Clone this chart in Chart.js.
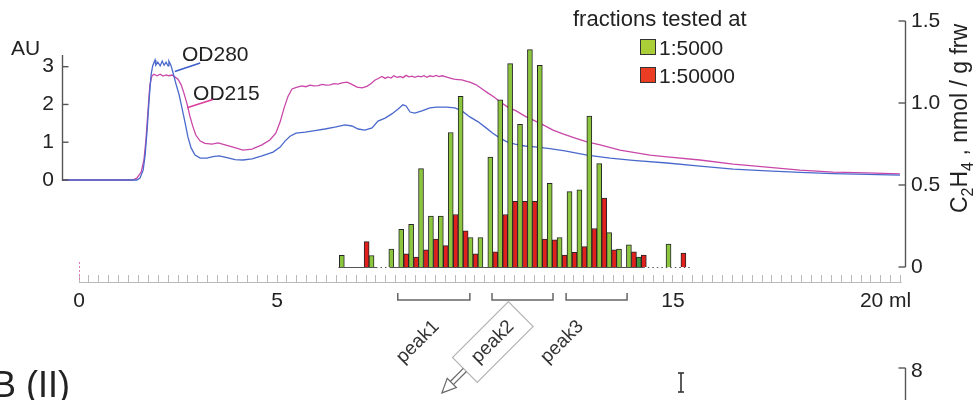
<!DOCTYPE html>
<html>
<head>
<meta charset="utf-8">
<script src="https://cdn.jsdelivr.net/npm/chart.js@4.4.1/dist/chart.umd.min.js"></script>
<style>
html,body{margin:0;padding:0;background:#fff;}
#wrap{width:977px;height:400px;position:relative;}
canvas{display:block;}
</style>
</head>
<body>
<div id="wrap"><canvas id="c" width="977" height="400"></canvas></div>
<script>
// Elution volume (ml) of each collected fraction
const fractionVolume = [6.7, 6.95, 7.2, 7.45, 7.7, 7.95, 8.2, 8.45, 8.7, 8.95,
  9.2, 9.45, 9.7, 9.95, 10.2, 10.45, 10.7, 10.95, 11.2, 11.45,
  11.7, 11.95, 12.2, 12.45, 12.7, 12.95, 13.2, 13.45, 13.7, 13.95,
  14.2, 14.45, 14.7, 14.95, 15.2];
// Ethylene produced (nmol / g frw), fractions tested at 1:5000
const ethylene5000 = [0.071, null, null, 0.07, null, 0.11, 0.23, 0.26, 0.60, 0.31,
  0.31, 0.82, 1.04, 0.18, 0.18, 0.67, 1.02, 1.24, 0.87, 1.325,
  1.23, 0.51, 0.18, 0.46, 0.47, 0.92, 0.63, 0.21, 0.11, 0.135,
  0.06, null, null, 0.14, null];
// Ethylene produced (nmol / g frw), fractions tested at 1:50000
const ethylene50000 = [null, null, 0.155, null, null, null, 0.08, 0.06, 0.105, 0.17,
  0.13, 0.32, 0.22, 0.08, null, 0.093, 0.32, 0.40, 0.40, 0.40,
  0.17, 0.165, 0.073, 0.09, 0.124, 0.235, 0.42, 0.105, null, 0.093,
  0.073, null, null, null, 0.085];

// Absorbance trace at 280 nm
const od280Volume = [-0.43, 0.53, 1.46, 1.54, 1.62, 1.67, 1.72, 1.77, 1.82, 1.86,
  1.92, 1.94, 1.99, 2.05, 2.10, 2.15, 2.20, 2.25, 2.27, 2.32,
  2.37, 2.45, 2.53, 2.60, 2.68, 2.75, 2.83, 2.93, 3.06, 3.23,
  3.38, 3.54, 3.71, 3.94, 4.14, 4.37, 4.62, 4.90, 5.08, 5.20,
  5.33, 5.48, 5.71, 5.96, 6.21, 6.46, 6.72, 6.89, 7.05, 7.22,
  7.40, 7.55, 7.73, 7.90, 8.06, 8.18, 8.26, 8.36, 8.48, 8.66,
  8.86, 9.04, 9.29, 9.49, 9.67, 9.87, 10.08, 10.28, 10.45, 10.63,
  10.81, 11.01, 11.26, 11.57, 11.89, 12.27, 12.83, 13.41, 13.99, 14.85,
  15.68, 16.52, 17.37, 18.21, 19.04, 19.90, 20.73];
const od280Abs = [0, 0, 0, 0.05, 0.26, 0.66, 1.32, 2.12, 2.78, 3.02,
  3.18, 3.04, 3.12, 3.02, 3.15, 3.04, 3.12, 3.02, 3.15, 3.04,
  2.86, 2.54, 2.25, 1.91, 1.51, 1.14, 0.85, 0.66, 0.58, 0.58,
  0.62, 0.64, 0.60, 0.54, 0.53, 0.56, 0.64, 0.74, 0.87, 1.03,
  1.16, 1.24, 1.27, 1.31, 1.35, 1.40, 1.46, 1.43, 1.35, 1.32,
  1.38, 1.56, 1.64, 1.75, 1.88, 1.99, 1.96, 1.80, 1.77, 1.83,
  1.91, 1.93, 1.93, 1.91, 1.83, 1.67, 1.54, 1.38, 1.24, 1.11,
  1.01, 0.95, 0.90, 0.87, 0.83, 0.77, 0.66, 0.58, 0.52, 0.45,
  0.37, 0.29, 0.24, 0.20, 0.17, 0.15, 0.13];

// Absorbance trace at 215 nm
const od215Volume = [-0.43, 1.36, 1.46, 1.57, 1.64, 1.69, 1.74, 1.79, 1.84, 1.89,
  1.97, 2.05, 2.12, 2.20, 2.27, 2.35, 2.42, 2.50, 2.58, 2.65,
  2.73, 2.80, 2.88, 2.95, 3.06, 3.18, 3.36, 3.51, 3.69, 3.89,
  4.14, 4.37, 4.62, 4.82, 4.97, 5.08, 5.18, 5.28, 5.38, 5.51,
  5.63, 5.73, 5.83, 5.93, 6.04, 6.14, 6.24, 6.34, 6.44, 6.54,
  6.64, 6.77, 6.89, 7.02, 7.15, 7.27, 7.37, 7.47, 7.58, 7.65,
  7.73, 7.80, 7.88, 7.95, 8.03, 8.11, 8.18, 8.26, 8.33, 8.41,
  8.48, 8.56, 8.64, 8.71, 8.79, 8.86, 8.94, 9.02, 9.09, 9.17,
  9.27, 9.37, 9.47, 9.57, 9.67, 9.77, 9.87, 10.03, 10.18, 10.33,
  10.48, 10.63, 10.83, 11.04, 11.26, 11.46, 11.72, 11.97, 12.22, 12.53,
  12.83, 13.16, 13.66, 14.42, 14.85, 15.68, 16.52, 17.37, 18.21, 19.04,
  19.90, 20.73];
const od215Abs = [0, 0, 0.05, 0.21, 0.53, 1.06, 1.80, 2.52, 2.75, 2.80,
  2.76, 2.80, 2.75, 2.78, 2.76, 2.78, 2.73, 2.67, 2.52, 2.30,
  2.01, 1.69, 1.40, 1.19, 1.03, 0.97, 0.95, 0.98, 0.93, 0.87,
  0.79, 0.82, 0.93, 1.06, 1.24, 1.54, 1.91, 2.22, 2.41, 2.46,
  2.49, 2.47, 2.51, 2.49, 2.50, 2.53, 2.51, 2.52, 2.55, 2.54,
  2.57, 2.59, 2.53, 2.46, 2.44, 2.48, 2.55, 2.64, 2.70, 2.74,
  2.69, 2.73, 2.70, 2.76, 2.72, 2.74, 2.71, 2.77, 2.73, 2.75,
  2.72, 2.75, 2.73, 2.76, 2.72, 2.76, 2.74, 2.77, 2.74, 2.76,
  2.73, 2.70, 2.67, 2.66, 2.65, 2.62, 2.59, 2.52, 2.41, 2.30,
  2.20, 2.07, 1.93, 1.83, 1.69, 1.59, 1.46, 1.32, 1.22, 1.11,
  1.01, 0.93, 0.79, 0.66, 0.61, 0.53, 0.42, 0.34, 0.26, 0.21,
  0.19, 0.16];

// Axis ticks and their labels
const volumeTicks = [0, 5, 15, 20];
const volumeTickText = ['0', '5', '15', '     20 ml'];
const auTicks = [0, 1, 2, 3];
const ethyleneTicks = [0, 0.5, 1, 1.5];
const ethyleneTickText = ['0', '0.5', '1.0', '1.5'];

// Pooled peaks (ml)
const peakNames = ['peak1', 'peak2', 'peak3'];
const peakStart = [8.05, 10.43, 12.30];
const peakEnd = [9.87, 11.97, 13.84];
const peakLabelAt = [8.56, 10.45, 12.20];

const FONT = '"Liberation Sans", Arial, Helvetica, sans-serif';
const GREEN = '#8cc63f', GREEN_DARK = '#3f9a3f', RED = '#e0201c';
const BLUE = '#4a69cc', PINK = '#c947a8';
const SHADED_FRACTION = 30; // fraction drawn in a darker green

Chart.defaults.font.family = FONT;
Chart.defaults.font.size = 21;
Chart.defaults.color = '#222';

function barPoints(values) {
  const pts = [];
  values.forEach((v, i) => { if (v !== null) pts.push({ x: fractionVolume[i], y: v, i }); });
  return pts;
}
const green = barPoints(ethylene5000);
const red = barPoints(ethylene50000);

function seg(ctx, x1, y1, x2, y2) { ctx.beginPath(); ctx.moveTo(x1, y1); ctx.lineTo(x2, y2); ctx.stroke(); }

const decorations = {
  id: 'decorations',
  beforeDatasetsDraw(chart) {
    const { ctx, scales: { x, yR } } = chart;
    const y0 = Math.round(yR.getPixelForValue(0)) + 0.5;
    ctx.save();
    ctx.strokeStyle = '#555'; ctx.lineWidth = 1;
    seg(ctx, x.getPixelForValue(6.55), y0, x.getPixelForValue(7.5), y0);
    seg(ctx, x.getPixelForValue(7.85), y0, x.getPixelForValue(14.25), y0);
    ctx.setLineDash([1.5, 3]);
    seg(ctx, x.getPixelForValue(7.5), y0, x.getPixelForValue(7.85), y0);
    seg(ctx, x.getPixelForValue(14.25), y0, x.getPixelForValue(15.5), y0);
    ctx.restore();
  },
  afterDraw(chart) {
    const { ctx, chartArea: ca, scales: { x, yL, yR } } = chart;
    ctx.save();
    ctx.lineCap = 'butt';

    // left absorbance axis
    ctx.strokeStyle = '#555'; ctx.lineWidth = 1.4;
    const lx = ca.left + 0.5;
    seg(ctx, lx, yL.getPixelForValue(3.31), lx, yL.getPixelForValue(0) + 1);
    auTicks.forEach(v => { const y = yL.getPixelForValue(v); seg(ctx, lx, y, lx + 6, y); });

    // right ethylene axis
    const rx = ca.right + 0.5;
    seg(ctx, rx, yR.getPixelForValue(1.5), rx, yR.getPixelForValue(0));
    ethyleneTicks.forEach(v => { const y = yR.getPixelForValue(v); seg(ctx, rx - 7, y, rx, y); });

    // volume ruler baseline
    ctx.strokeStyle = '#b9b9b9'; ctx.lineWidth = 1;
    const ry = ca.bottom + 7.5;
    seg(ctx, x.getPixelForValue(0), ry, x.getPixelForValue(20.75) + 1, ry);

    // injection mark
    ctx.strokeStyle = '#e27ab8'; ctx.setLineDash([2, 2]);
    const x0 = Math.round(x.getPixelForValue(0)) + 0.5;
    seg(ctx, x0, ca.bottom - 13, x0, ca.bottom + 7);
    ctx.setLineDash([]);

    // axis titles and trace labels
    ctx.fillStyle = '#222'; ctx.font = '21px ' + FONT;
    ctx.textAlign = 'left'; ctx.textBaseline = 'alphabetic';
    ctx.fillText('AU', 11, 55);
    ctx.fillText('OD280', x.getPixelForValue(2.60), yL.getPixelForValue(3.15));
    ctx.fillText('OD215', x.getPixelForValue(2.88), yL.getPixelForValue(2.12));
    ctx.lineWidth = 1.6;
    ctx.strokeStyle = '#3f5fc8';
    seg(ctx, x.getPixelForValue(2.42), yL.getPixelForValue(2.87), x.getPixelForValue(3.06), yL.getPixelForValue(3.10));
    ctx.strokeStyle = '#dc3c9c';
    seg(ctx, x.getPixelForValue(2.73), yL.getPixelForValue(1.91), x.getPixelForValue(3.38), yL.getPixelForValue(2.13));

    // ethylene axis title, read bottom to top
    ctx.save();
    ctx.translate(967, 213); ctx.rotate(-Math.PI / 2);
    let cx = 0;
    [['C', 0], ['2', 1], ['H', 0], ['4', 1], [' , nmol / g frw', 0]].forEach(([t, sub]) => {
      ctx.font = (sub ? '16px ' : '23px ') + FONT;
      ctx.fillText(t, cx, sub ? 6 : 0);
      cx += ctx.measureText(t).width;
    });
    ctx.restore();

    // legend
    ctx.font = '22px ' + FONT;
    ctx.fillText('fractions tested at', 573, 26);
    ctx.lineWidth = 1; ctx.strokeStyle = '#333';
    ctx.fillStyle = '#a9ce38'; ctx.fillRect(640.5, 39.5, 15, 15); ctx.strokeRect(640.5, 39.5, 15, 15);
    ctx.fillStyle = '#ea3d24'; ctx.fillRect(640.5, 67.5, 15, 15); ctx.strokeRect(640.5, 67.5, 15, 15);
    ctx.fillStyle = '#222';
    ctx.font = '21px ' + FONT;
    ctx.fillText('1:5000', 659, 55);
    ctx.fillText('1:50000', 659, 83);

    // peak brackets
    ctx.strokeStyle = '#666'; ctx.lineWidth = 1.5;
    const by = ca.bottom + 25;
    peakNames.forEach((name, i) => {
      const a = x.getPixelForValue(peakStart[i]), b = x.getPixelForValue(peakEnd[i]);
      ctx.beginPath();
      ctx.moveTo(a, by - 7); ctx.lineTo(a, by); ctx.lineTo(b, by); ctx.lineTo(b, by - 7);
      ctx.stroke();
    });
    ctx.font = '19px ' + FONT; ctx.fillStyle = '#333';
    peakNames.forEach((name, i) => {
      const cxp = x.getPixelForValue(peakLabelAt[i]);
      ctx.save();
      ctx.translate(cxp, 342); ctx.rotate(-Math.PI / 4);
      ctx.textAlign = 'center'; ctx.textBaseline = 'middle';
      ctx.fillText(name, 0, 0);
      if (i === 1) {
        ctx.strokeStyle = '#b5b5b5'; ctx.lineWidth = 1.2;
        ctx.strokeRect(-39.5, -17.5, 79, 35);
        ctx.strokeStyle = '#666'; ctx.lineWidth = 1.2;
        seg(ctx, -39.5, -2.2, -58, -2.2);
        seg(ctx, -39.5, 2.2, -58, 2.2);
        ctx.beginPath();
        ctx.moveTo(-58, -6.5); ctx.lineTo(-72, 0); ctx.lineTo(-58, 6.5); ctx.closePath();
        ctx.fillStyle = '#fff'; ctx.fill(); ctx.stroke();
      }
      ctx.restore();
    });

    // start of the next panel
    ctx.fillStyle = '#222'; ctx.textAlign = 'left'; ctx.textBaseline = 'alphabetic';
    ctx.font = '36px ' + FONT;
    ctx.fillText('B (II)', -8, 397);
    ctx.font = '21px ' + FONT; ctx.textBaseline = 'middle';
    ctx.fillText('8', 911, 371);
    ctx.strokeStyle = '#555'; ctx.lineWidth = 1.4;
    seg(ctx, rx - 7, 368, rx, 368); seg(ctx, rx, 368, rx, 400);
    ctx.strokeStyle = '#333'; ctx.lineWidth = 1.6;
    seg(ctx, 681, 373, 681, 392); seg(ctx, 678, 373, 684, 373); seg(ctx, 678, 392, 684, 392);
    ctx.restore();
  }
};

new Chart(document.getElementById('c'), {
  type: 'bar',
  data: {
    datasets: [
      {
        type: 'bar', label: '1:5000', data: green, xAxisID: 'x', yAxisID: 'yR',
        backgroundColor: green.map(p => p.i === SHADED_FRACTION ? GREEN_DARK : GREEN),
        borderColor: '#262626', borderWidth: 1, barThickness: 5, order: 0
      },
      {
        type: 'bar', label: '1:50000', data: red, xAxisID: 'x', yAxisID: 'yR',
        backgroundColor: RED, borderColor: '#262626', borderWidth: 1, barThickness: 5, order: 0
      },
      {
        type: 'line', label: 'OD280', data: od280Volume.map((v, i) => ({ x: v, y: od280Abs[i] })),
        xAxisID: 'x', yAxisID: 'yL', borderColor: BLUE, borderWidth: 1.3, pointRadius: 0, tension: 0, order: 1
      },
      {
        type: 'line', label: 'OD215', data: od215Volume.map((v, i) => ({ x: v, y: od215Abs[i] })),
        xAxisID: 'x', yAxisID: 'yL', borderColor: PINK, borderWidth: 1.3, pointRadius: 0, tension: 0, order: 1
      }
    ]
  },
  options: {
    responsive: false, animation: false, devicePixelRatio: 1, events: [],
    layout: { padding: { top: 21, left: 0, right: 0, bottom: 0 } },
    plugins: { legend: { display: false }, tooltip: { enabled: false } },
    scales: {
      x: {
        type: 'linear', position: 'bottom', min: -0.4293, max: 20.8586, offset: false,
        afterBuildTicks(s) { const t = []; for (let i = 0; i <= 83; i++) t.push({ value: i * 0.25 }); s.ticks = t; },
        afterFit(s) { s.height = 125; },
        grid: { display: true, drawOnChartArea: false, drawTicks: true, tickLength: 7, color: '#b9b9b9', tickColor: '#b9b9b9', tickWidth: 1, offset: false },
        border: { display: false },
        ticks: {
          autoSkip: false, maxRotation: 0, minRotation: 0, padding: 7, color: '#222', font: { size: 21 },
          callback: v => { const i = volumeTicks.indexOf(v); return i < 0 ? '' : volumeTickText[i]; }
        }
      },
      yL: {
        type: 'linear', position: 'left', min: -2.5152, max: 4.2097,
        afterBuildTicks(s) { s.ticks = auTicks.map(v => ({ value: v })); },
        afterFit(s) { s.width = 62; },
        grid: { display: false, drawTicks: false }, border: { display: false },
        ticks: { padding: 8, color: '#222', font: { size: 21 }, callback: v => String(v) }
      },
      yR: {
        type: 'linear', position: 'right', min: -0.04878, max: 1.5,
        afterBuildTicks(s) { s.ticks = ethyleneTicks.map(v => ({ value: v })); },
        afterFit(s) { s.width = 72; },
        grid: { display: false, drawTicks: false }, border: { display: false },
        ticks: { padding: 6, color: '#222', font: { size: 21 }, callback: v => ethyleneTickText[ethyleneTicks.indexOf(v)] }
      }
    }
  },
  plugins: [decorations]
});
</script>
</body>
</html>
